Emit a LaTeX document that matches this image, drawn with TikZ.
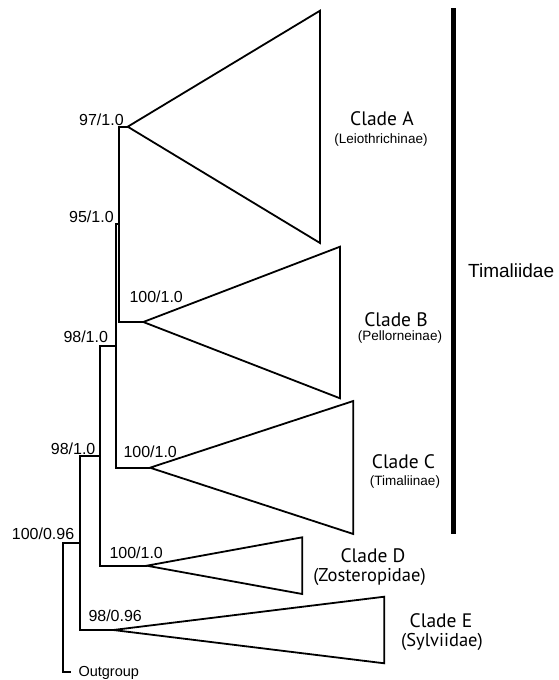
\documentclass[tikz,border=0pt]{standalone}
\usepackage{fontspec}
\setmainfont{Liberation Sans}
\newfontfamily\cladefont{PT Sans}
\usepackage{tikz}
\usetikzlibrary{positioning}

\begin{document}
\begin{tikzpicture}[
    x=1pt, y=-1pt,
    branch/.style={line width=2pt},
    clade/.style={line width=1.8pt, line join=miter},
    supp/.style={anchor=base west, inner sep=0pt, font=\fontsize{16}{18}\selectfont},
    cladename/.style={anchor=base, inner sep=0pt, font=\cladefont\fontsize{19.5}{22}\selectfont},
    subname/.style={anchor=base, inner sep=0pt, font=\fontsize{13.5}{16}\selectfont},
    bigsub/.style={cladename, font=\cladefont\fontsize{18.5}{21}\selectfont},
    family/.style={line width=4.5pt}
]
    \useasboundingbox (0,0) rectangle (559,680);

    % clade triangles
    \coordinate (aTip) at (127.7,126.7);
    \coordinate (aTop) at (320,10.7);
    \coordinate (aBot) at (320,243);
    \coordinate (bTip) at (143.3,322);
    \coordinate (bTop) at (340,246.7);
    \coordinate (bBot) at (340,398.3);
    \coordinate (cTip) at (150,467.7);
    \coordinate (cTop) at (353.3,401);
    \coordinate (cBot) at (353.3,534);
    \coordinate (dTip) at (146.7,565.7);
    \coordinate (dTop) at (302.3,537.3);
    \coordinate (dBot) at (302.3,594);
    \coordinate (eTip) at (113.3,630);
    \coordinate (eTop) at (384.3,596.7);
    \coordinate (eBot) at (384.3,663.3);
    \coordinate (outTip) at (71,672.3);

    \draw[clade] (aTip) -- (aTop) -- (aBot) -- cycle;
    \draw[clade] (bTip) -- (bTop) -- (bBot) -- cycle;
    \draw[clade] (cTip) -- (cTop) -- (cBot) -- cycle;
    \draw[clade] (dTip) -- (dTop) -- (dBot) -- cycle;
    \draw[clade] (eTip) -- (eTop) -- (eBot) -- cycle;

    % internal nodes
    \coordinate (nAB) at (119.3,224.3);
    \coordinate (nABC) at (116,346);
    \coordinate (nABCD) at (100,456);
    \coordinate (nIngroup) at (80,543);
    \coordinate (nRoot) at (63.3,607.6);

    \draw[branch] (aTip) -| (nAB) |- (bTip);
    \draw[branch] (nAB) -| (nABC) |- (cTip);
    \draw[branch] (nABC) -| (nABCD) |- (dTip);
    \draw[branch] (nABCD) -| (nIngroup) |- (eTip);
    \draw[branch] (nIngroup) -| (nRoot) |- (outTip);

    % support values
    \node[supp] (sA) at (79,125) {97/1.0};
    \node[supp] (sAB) at (69,222.3) {95/1.0};
    \node[supp] (sB) at (129.3,302.5) {100/1.0};
    \node[supp] (sABC) at (63.3,342.7) {98/1.0};
    \node[supp] (sABCD) at (50.7,454) {98/1.0};
    \node[supp] (sC) at (123.3,457.7) {100/1.0};
    \node[supp] (sIngroup) at (11.7,539.3) {100/0.96};
    \node[supp] (sD) at (109.3,558.3) {100/1.0};
    \node[supp] (sE) at (88.3,621) {98/0.96};
    \node[supp, font=\fontsize{14.5}{17}\selectfont] (outgroup) at (78.3,676) {Outgroup};

    % clade names
    \node[cladename] (nameA) at (382,125) {Clade A};
    \node[subname] (subA) at (381,143.8) {(Leiothrichinae)};
    \node[cladename] (nameB) at (396,326) {Clade B};
    \node[subname] (subB) at (400,340.8) {(Pellorneinae)};
    \node[cladename] (nameC) at (403.5,468) {Clade C};
    \node[subname] (subC) at (405,485.5) {(Timaliinae)};
    \node[cladename] (nameD) at (373,562.8) {Clade D};
    \node[bigsub] (subD) at (369.5,581.5) {(Zosteropidae)};
    \node[cladename] (nameE) at (441,627.8) {Clade E};
    \node[bigsub] (subE) at (442,646.5) {(Sylviidae)};

    % family bar
    \coordinate (barTop) at (453.3,8.3);
    \coordinate (barBot) at (453.3,534.3);
    \draw[family] (barTop) -- (barBot);
    \node[anchor=base west, inner sep=0pt, font=\fontsize{19}{22}\selectfont] (family) at (468,277.3) {Timaliidae};
\end{tikzpicture}
\end{document}
